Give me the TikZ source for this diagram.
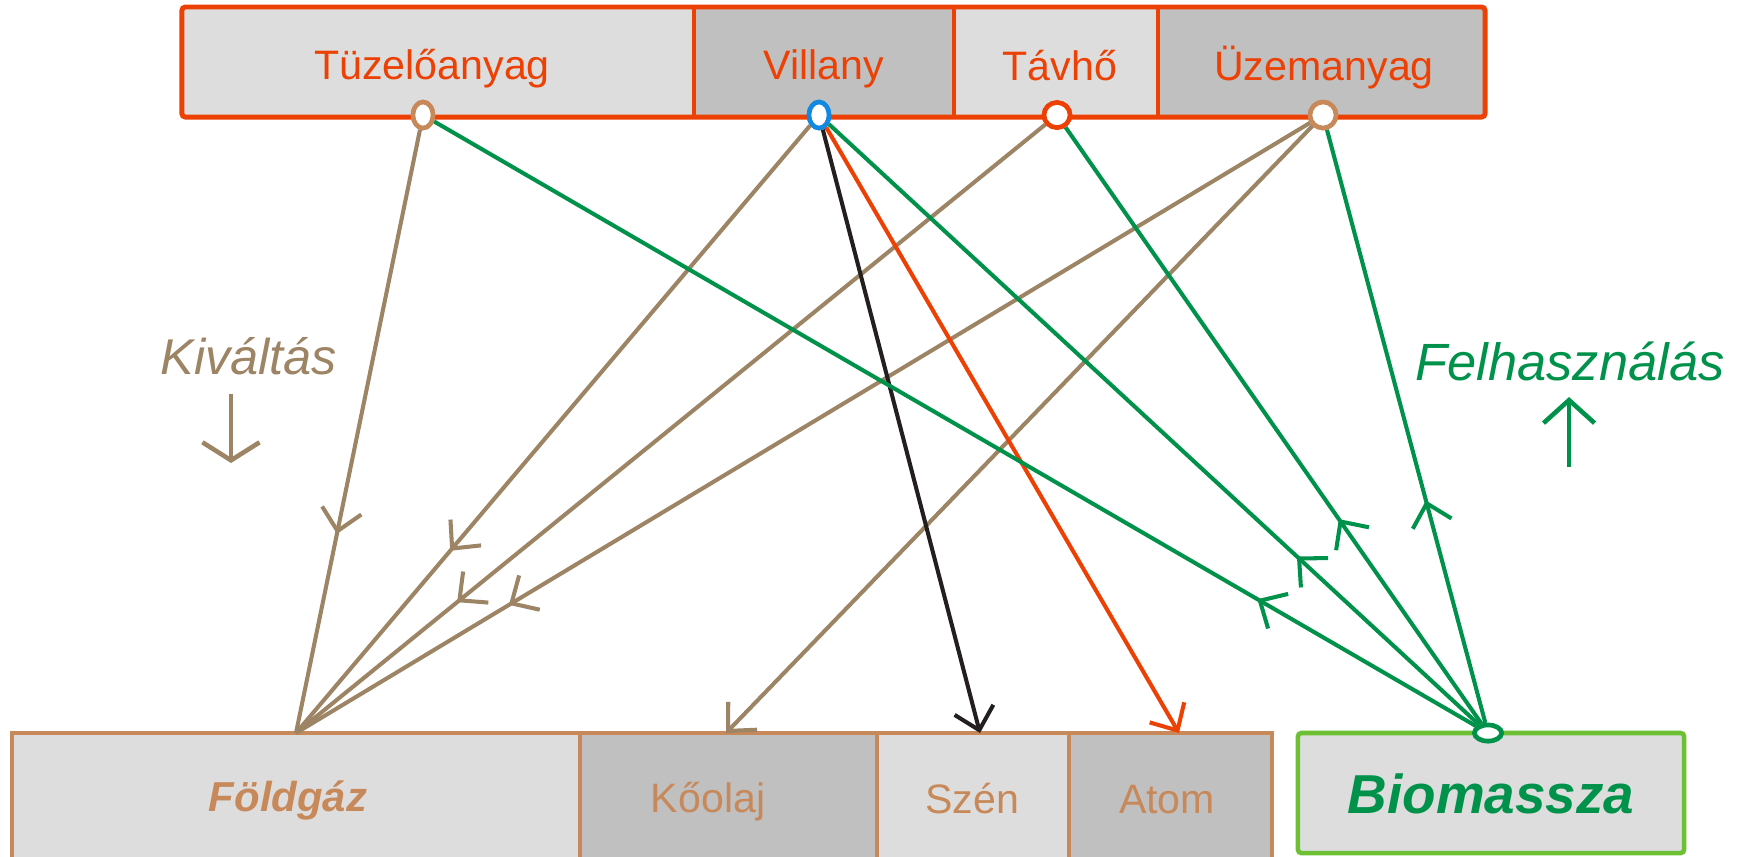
\documentclass[tikz,border=0pt]{standalone}
\usepackage{fontspec}
\setmainfont{Liberation Sans}
\usetikzlibrary{arrows.meta,shapes.geometric,decorations.markings}
\definecolor{orng}{RGB}{236,64,4}
\definecolor{tan}{RGB}{200,137,90}
\definecolor{brn}{RGB}{156,132,100}
\definecolor{grn}{RGB}{0,146,74}
\definecolor{lgrn}{RGB}{109,192,51}
\definecolor{blu}{RGB}{18,136,224}
\definecolor{lgray}{RGB}{221,221,221}
\definecolor{dgray}{RGB}{192,192,192}
\definecolor{blk}{RGB}{35,31,32}
\begin{document}
\begin{tikzpicture}[x=0.01cm,y=-0.01cm,
  seg/.style={rectangle, inner sep=0, outer sep=0},
  botseg/.style={seg, draw=tan, line width=1.2pt, minimum height=1.47cm},
  toplbl/.style={anchor=base, text=orng, font=\fontsize{11.7}{14}\selectfont},
  botlbl/.style={anchor=base, text=tan, font=\fontsize{11.7}{14}\selectfont},
  port/.style={ellipse, draw, fill=white, line width=1.3pt, inner sep=0},
  conn/.style={line width=1.15pt},
  midarrow/.style={postaction={decorate}, decoration={markings, mark=at position #1 with {\arrow{Straight Barb[length=2.1mm,width=4mm]}}}},
  endarrow/.style={-{Straight Barb[length=2.1mm,width=4mm]}}
]
\useasboundingbox (0,0) rectangle (1746,856);
% top bar
\node[seg, fill=lgray, minimum width=5.115cm, minimum height=1.10cm] (tuz) at (437.75,62) {};
\node[seg, fill=dgray, minimum width=2.605cm, minimum height=1.10cm] (vil) at (823.75,62) {};
\node[seg, fill=lgray, minimum width=2.04cm, minimum height=1.10cm] (tav) at (1056,62) {};
\node[seg, fill=dgray, minimum width=3.27cm, minimum height=1.10cm] (uzem) at (1321.5,62) {};
\draw[orng, line width=1.2pt] (tuz.north east) -- (tuz.south east);
\draw[orng, line width=1.2pt] (vil.north east) -- (vil.south east);
\draw[orng, line width=1.2pt] (tav.north east) -- (tav.south east);
\draw[orng, line width=1.4pt, rounded corners=1pt] (tuz.north west) rectangle (uzem.south east);
\node[toplbl] (tuzl) at (432,79) {Tüzelőanyag};
\node[toplbl] (vill) at (824,79) {Villany};
\node[toplbl] (tavl) at (1060,80) {Távhő};
\node[toplbl] (uzeml) at (1324,80) {Üzemanyag};
% bottom bar
\node[botseg, fill=lgray, minimum width=5.68cm] (fg) at (296,806.5) {};
\node[botseg, fill=dgray, minimum width=2.97cm] (ko) at (728.5,806.5) {};
\node[botseg, fill=lgray, minimum width=1.92cm] (sz) at (973,806.5) {};
\node[botseg, fill=dgray, minimum width=2.026cm] (at) at (1170.3,806.5) {};
\node[anchor=base, text=tan, font=\fontsize{11.9}{14}\selectfont\bfseries\itshape] (fgl) at (288,811) {Földgáz};
\node[botlbl] (kol) at (708,812) {Kőolaj};
\node[botlbl] (szl) at (972,813) {Szén};
\node[botlbl] (atl) at (1167,813) {Atom};
% biomassza
\node[seg, draw=lgrn, fill=lgray, line width=1.3pt, rounded corners=1pt, minimum width=3.86cm, minimum height=1.20cm] (bio) at (1491,793) {};
\node[anchor=base, text=grn, font=\fontsize{15.6}{18}\selectfont\bfseries\itshape] (biol) at (1491,813) {Biomassza};
% side labels
\node[anchor=base, text=brn, font=\fontsize{14.3}{17}\selectfont\itshape] (kiv) at (249,374) {Kiváltás};
\node[anchor=base, text=grn, font=\fontsize{14.9}{17}\selectfont\itshape] (felh) at (1570,380) {Felhasználás};
\coordinate (kva) at (231,394);
\coordinate (kvb) at (231,463);
\draw[conn, line width=1.3pt, color=brn, -{Straight Barb[length=1.8mm,width=5.7mm]}] (kva) -- (kvb);
\coordinate (fa) at (1569,467);
\coordinate (fb) at (1569,397);
\draw[conn, line width=1.3pt, color=grn, -{Straight Barb[length=2.3mm,width=5.1mm]}] (fa) -- (fb);
% ports
\node[port, draw=tan, minimum width=0.2cm, minimum height=0.26cm] (p1) at (423,115) {};
\node[port, draw=blu, minimum width=0.2cm, minimum height=0.26cm] (p2) at (819,115) {};
\node[port, draw=orng, minimum width=0.26cm, minimum height=0.25cm] (p3) at (1057,115) {};
\node[port, draw=tan, minimum width=0.26cm, minimum height=0.26cm] (p4) at (1323,115) {};
\node[port, draw=grn, minimum width=0.27cm, minimum height=0.16cm] (pb) at (1488,733) {};
\coordinate (fgin) at (296,733);
\coordinate (koin) at (726,733);
\coordinate (szin) at (980,733);
\coordinate (atin) at (1179,733);
% connectors
\draw[conn, color=brn, midarrow=0.67] (p1) -- (fgin);
\draw[conn, color=brn, midarrow=0.70] (p2) -- (fgin);
\draw[conn, color=brn, midarrow=0.785] (p3) -- (fgin);
\draw[conn, color=brn, midarrow=0.79] (p4) -- (fgin);
\draw[conn, color=brn, endarrow] (p4) -- (koin);
\draw[conn, color=blk, endarrow] (p2) -- (szin);
\draw[conn, color=orng, endarrow] (p2) -- (atin);
\draw[conn, color=grn, midarrow=0.21] (pb) -- (p1);
\draw[conn, color=grn, midarrow=0.28] (pb) -- (p2);
\draw[conn, color=grn, midarrow=0.343] (pb) -- (p3);
\draw[conn, color=grn, midarrow=0.375] (pb) -- (p4);
% redraw ports on top
\node[port, draw=tan, minimum width=0.2cm, minimum height=0.26cm] at (p1) {};
\node[port, draw=blu, minimum width=0.2cm, minimum height=0.26cm] at (p2) {};
\node[port, draw=orng, minimum width=0.26cm, minimum height=0.25cm] at (p3) {};
\node[port, draw=tan, minimum width=0.26cm, minimum height=0.26cm] at (p4) {};
\node[port, draw=grn, minimum width=0.27cm, minimum height=0.16cm] at (pb) {};
\end{tikzpicture}
\end{document}
